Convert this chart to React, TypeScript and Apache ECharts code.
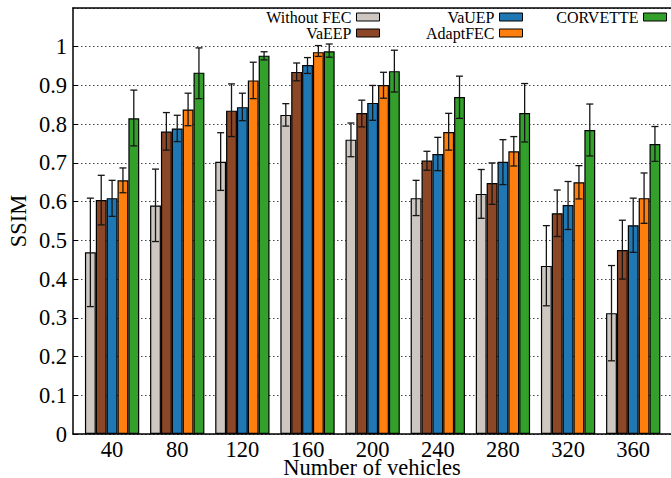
import React, { useEffect, useRef } from "react";
import * as echarts from "echarts";

const categories = ["40", "80", "120", "160", "200", "240", "280", "320", "360"];
const seriesNames = ["Without FEC", "VaEEP", "VaUEP", "AdaptFEC", "CORVETTE"];
const seriesColors = ["#cdc6c1", "#8b4726", "#1f77b4", "#ff7f0e", "#33a02c"];

const withoutFEC = [0.469, 0.590, 0.703, 0.824, 0.760, 0.609, 0.620, 0.434, 0.312];
const withoutFECLow = [0.329, 0.497, 0.629, 0.795, 0.716, 0.564, 0.557, 0.331, 0.189];
const withoutFECHigh = [0.609, 0.684, 0.778, 0.853, 0.803, 0.655, 0.683, 0.538, 0.435];

const vaEEP = [0.604, 0.781, 0.835, 0.935, 0.829, 0.706, 0.648, 0.570, 0.475];
const vaEEPLow = [0.540, 0.733, 0.768, 0.912, 0.793, 0.681, 0.593, 0.510, 0.400];
const vaEEPHigh = [0.668, 0.830, 0.904, 0.958, 0.862, 0.730, 0.700, 0.630, 0.552];

const vaUEP = [0.609, 0.789, 0.844, 0.953, 0.855, 0.723, 0.703, 0.591, 0.539];
const vaUEPLow = [0.562, 0.755, 0.809, 0.931, 0.810, 0.680, 0.644, 0.528, 0.469];
const vaUEPHigh = [0.655, 0.823, 0.880, 0.972, 0.900, 0.766, 0.760, 0.652, 0.609];

const adaptFEC = [0.655, 0.838, 0.913, 0.986, 0.901, 0.780, 0.730, 0.650, 0.609];
const adaptFECLow = [0.623, 0.796, 0.866, 0.975, 0.867, 0.733, 0.692, 0.607, 0.544];
const adaptFECHigh = [0.687, 0.880, 0.960, 1.003, 0.934, 0.828, 0.768, 0.693, 0.674];

const corvette = [0.815, 0.933, 0.977, 0.988, 0.937, 0.870, 0.829, 0.785, 0.749];
const corvetteLow = [0.744, 0.866, 0.966, 0.973, 0.883, 0.815, 0.754, 0.718, 0.704];
const corvetteHigh = [0.888, 0.997, 0.987, 1.007, 0.991, 0.924, 0.905, 0.852, 0.794];

const values = [withoutFEC, vaEEP, vaUEP, adaptFEC, corvette];
const lows = [withoutFECLow, vaEEPLow, vaUEPLow, adaptFECLow, corvetteLow];
const highs = [withoutFECHigh, vaEEPHigh, vaUEPHigh, adaptFECHigh, corvetteHigh];

const FONT = "'Liberation Serif', 'Times New Roman', serif";

export default function App() {
  const ref = useRef<HTMLDivElement>(null);
  useEffect(() => {
    if (!ref.current) return;
    const chart = echarts.init(ref.current, null, { renderer: "svg" });
    const xMin = -0.6;
    const xMax = 8.58;
    const barUnit = 1 / 6;

    const barSeries = seriesNames.map((name, s) => ({
      type: "bar",
      name,
      xAxisIndex: 0,
      yAxisIndex: 0,
      barWidth: 10.86,
      barGap: "0%",
      itemStyle: { color: seriesColors[s], borderColor: "#000", borderWidth: 1.2 },
      data: values[s].map((v, i) => [i, v]),
      z: 2,
    }));

    const errSeries = seriesNames.map((name, s) => ({
      type: "custom",
      name: name + " error",
      xAxisIndex: 0,
      yAxisIndex: 0,
      z: 5,
      encode: { x: 0, y: [1, 2] },
      data: lows[s].map((lo, i) => [i, lo, highs[s][i]]),
      renderItem: (params: any, api: any) => {
        const x = api.value(0) + (s - 2) * barUnit;
        const top = api.coord([x, api.value(2)]);
        const bot = api.coord([x, api.value(1)]);
        const c = 3.5;
        const style = { stroke: "#151515", lineWidth: 1.3 };
        return {
          type: "group",
          children: [
            { type: "line", shape: { x1: top[0], y1: top[1], x2: bot[0], y2: bot[1] }, style },
            { type: "line", shape: { x1: top[0] - c, y1: top[1], x2: top[0] + c, y2: top[1] }, style },
            { type: "line", shape: { x1: bot[0] - c, y1: bot[1], x2: bot[0] + c, y2: bot[1] }, style },
          ],
        };
      },
    }));

    const legendBase = {
      orient: "vertical",
      align: "right",
      top: 9,
      padding: 0,
      itemGap: 0,
      itemWidth: 23,
      itemHeight: 8,
      icon: "rect",
      itemStyle: { borderColor: "#000", borderWidth: 1 },
      textStyle: { fontFamily: FONT, fontSize: 16, color: "#000", lineHeight: 16 },
    };

    chart.setOption({
      animation: false,
      textStyle: { fontFamily: FONT },
      grid: {
        left: 73,
        right: 0,
        top: 8,
        bottom: 44,
        containLabel: false,
        outerBoundsMode: "none",
      },
      legend: [
        { ...legendBase, right: 291, data: [seriesNames[0], seriesNames[1]] },
        { ...legendBase, right: 148, data: [seriesNames[2], seriesNames[3]] },
        { ...legendBase, right: 4, data: [seriesNames[4]] },
      ],
      xAxis: [
        {
          type: "value",
          min: xMin,
          max: xMax,
          position: "bottom",
          name: "Number of vehicles",
          nameLocation: "middle",
          nameGap: 25,
          nameMoveOverlap: false,
          nameTextStyle: { fontFamily: FONT, fontSize: 22.5, color: "#000", lineHeight: 16 },
          axisLine: { show: true, onZero: false, lineStyle: { color: "#000", width: 1.5 } },
          axisTick: { show: false },
          splitLine: { show: false },
          axisLabel: {
            customValues: [0, 1, 2, 3, 4, 5, 6, 7, 8],
            formatter: (v: number) => categories[Math.round(v)] ?? "",
            fontFamily: FONT,
            fontSize: 22.5,
            lineHeight: 16,
            color: "#000",
            margin: 7.5,
          },
        },
        {
          type: "value",
          min: xMin,
          max: xMax,
          position: "top",
          axisLine: { show: true, onZero: false, lineStyle: { color: "#000", width: 1.5 } },
          axisTick: { show: false },
          axisLabel: { show: false },
          splitLine: { show: false },
        },
      ],
      yAxis: {
        type: "value",
        min: 0,
        max: 1.1,
        interval: 0.1,
        name: "SSIM",
        nameLocation: "middle",
        nameGap: 43,
        nameMoveOverlap: false,
        nameTextStyle: { fontFamily: FONT, fontSize: 22.5, color: "#000" },
        axisLine: { show: true, onZero: false, lineStyle: { color: "#000", width: 1.5 } },
        axisTick: { show: true, inside: true, length: 5, lineStyle: { color: "#000", width: 1 } },
        axisLabel: {
          showMaxLabel: false,
          formatter: (v: number) => (v > 1.05 ? "" : String(Math.round(v * 10) / 10)),
          fontFamily: FONT,
          fontSize: 22.5,
          color: "#000",
          margin: 6,
        },
        splitLine: { show: true, lineStyle: { color: "#444", width: 1, type: [1.5, 2.5] } },
      },
      series: [...barSeries, ...errSeries],
    });
    return () => chart.dispose();
  }, []);
  return (
    <div
      ref={ref}
      style={{ position: "fixed", left: 0, top: 0, width: 671, height: 478, background: "#fff" }}
    />
  );
}
